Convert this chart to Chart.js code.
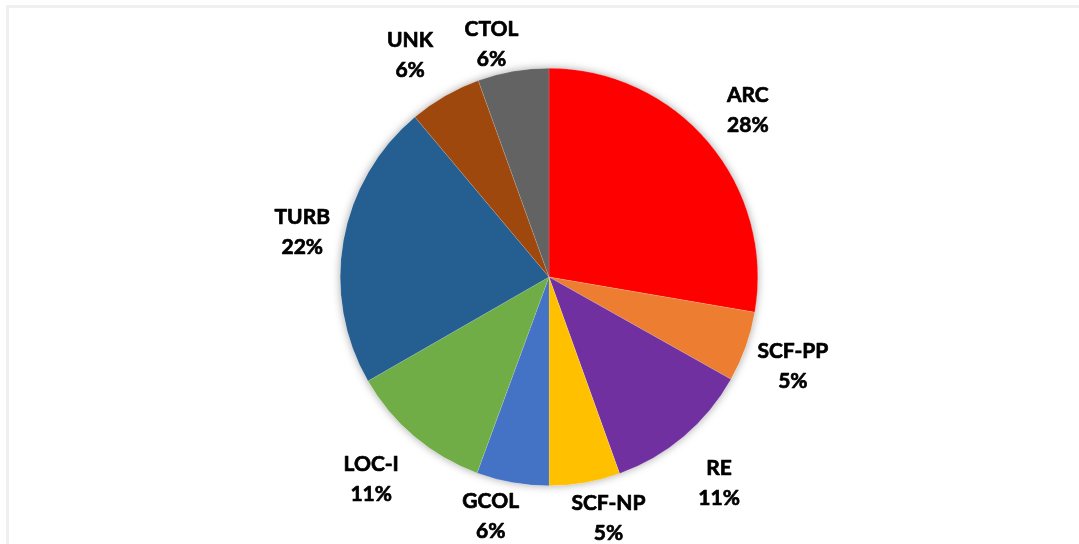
<!DOCTYPE html>
<html>
<head>
<meta charset="utf-8">
<script src="https://cdn.jsdelivr.net/npm/chart.js@4/dist/chart.umd.min.js"></script>
<style>
  html, body { margin: 0; padding: 0; background: #fff; overflow: hidden; }
  .marco { position: absolute; left: 6px; top: 5px; width: 1100px; height: 600px; border: 3px solid #f0f0f0; box-sizing: border-box; }
  .lienzo { position: absolute; left: 0; top: 0; width: 1079px; height: 544px; }
</style>
</head>
<body>
<div class="marco"></div>
<div class="lienzo"><canvas id="grafico"></canvas></div>
<script>
// Datos del gráfico (porcentaje de sucesos por categoría)
const categorias = ['ARC', 'SCF-PP', 'RE', 'SCF-NP', 'GCOL', 'LOC-I', 'TURB', 'UNK', 'CTOL'];
const valores = [27.7, 5.45, 11.36, 5.49, 5.6, 11.1, 22.2, 5.6, 5.5];
const colores = ['#FF0000', '#ED7D31', '#7030A0', '#FFC000', '#4472C4', '#70AD47', '#255E91', '#9E480E', '#636363'];

// pequeños ajustes (px) de las etiquetas para imitar la colocación de Excel
const ajustesEtiquetas = [[1, -1], [0, 1], [3, 7], [15, -15], [-13, -17], [-11, 3], [8, -1], [-10, 1], [-13, 21]];

document.addEventListener("DOMContentLoaded", () => {
  const total = valores.reduce((a, b) => a + b, 0);

  // sombra suave alrededor de la tarta
  const sombra = {
    id: 'sombra',
    beforeDatasetsDraw(chart) {
      const arco = chart.getDatasetMeta(0).data[0];
      if (!arco) return;
      const c = chart.ctx;
      c.save();
      c.shadowColor = 'rgba(0,0,0,0.35)';
      c.shadowBlur = 8;
      c.fillStyle = '#fff';
      c.beginPath();
      c.arc(arco.x, arco.y, arco.outerRadius, 0, Math.PI * 2);
      c.fill();
      c.restore();
    }
  };

  // etiquetas fuera de cada porción: nombre y porcentaje
  const etiquetas = {
    id: 'etiquetas',
    afterDatasetsDraw(chart) {
      const c = chart.ctx;
      const meta = chart.getDatasetMeta(0);
      c.save();
      c.font = 'bold 21px Lato';
      c.fillStyle = '#000';
      c.strokeStyle = '#000';
      c.lineWidth = 0.7;
      c.lineJoin = 'round';
      c.textAlign = 'center';
      c.textBaseline = 'alphabetic';
      meta.data.forEach((arco, i) => {
        const a = (arco.startAngle + arco.endAngle) / 2;
        const r = arco.outerRadius + 50;
        const x = arco.x + Math.cos(a) * r + ajustesEtiquetas[i][0];
        const y = arco.y + Math.sin(a) * r + ajustesEtiquetas[i][1];
        const pct = Math.round(valores[i] / total * 100) + '%';
        c.fillText(categorias[i], x, y - 7);
        c.strokeText(categorias[i], x, y - 7);
        c.fillText(pct, x, y + 23);
        c.strokeText(pct, x, y + 23);
      });
      c.restore();
    }
  };

  const ctx = document.getElementById('grafico');
  new Chart(ctx.getContext('2d'), {
    type: 'pie',
    data: {
      labels: categorias,
      datasets: [{
        data: valores,
        backgroundColor: colores,
        borderColor: 'rgba(255,255,255,0.25)',
        borderWidth: 0.5
      }]
    },
    options: {
      responsive: true,
      maintainAspectRatio: false,
      animation: false,
      layout: {
        padding: { left: 340, right: 321, top: 68, bottom: 58 }
      },
      plugins: {
        legend: { display: false },
        tooltip: { enabled: false }
      }
    },
    plugins: [sombra, etiquetas]
  });
});
</script>
</body>
</html>
